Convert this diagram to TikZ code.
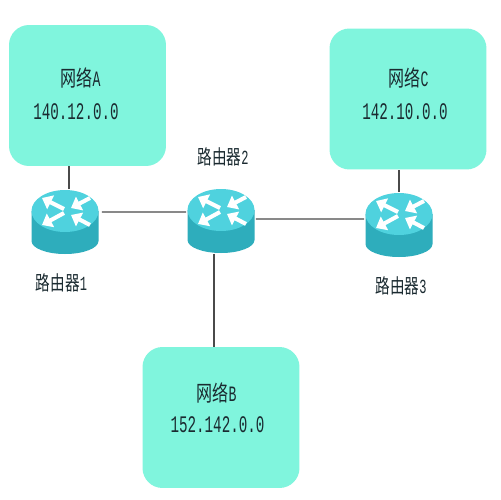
\documentclass[tikz,border=0pt]{standalone}
\usepackage{fontspec}
\setmainfont{Liberation Mono}
\newfontfamily\cjkf[FakeStretch=0.73]{Noto Sans CJK SC}
\newfontfamily\latf[FakeStretch=0.6]{Liberation Mono}
\usetikzlibrary{arrows.meta}
\definecolor{netc}{HTML}{80F5DD}
\definecolor{rtop}{HTML}{4FD2DE}
\definecolor{rside}{HTML}{2EADBC}
\definecolor{linec}{HTML}{4A4A4A}
\definecolor{txtc}{HTML}{1A2A30}
\tikzset{
  x=0.02cm,y=-0.02cm,
  netbox/.style={fill=netc,draw=none,rounded corners=0.4cm,minimum width=3.14cm,minimum height=2.82cm,inner sep=0pt},
  link/.style={draw=linec,line width=0.6pt},
  rbase/.style={inner sep=0pt,minimum width=1.34cm,minimum height=1.3cm},
  lbl/.style={inner sep=0pt,text=txtc},
  arw/.style={white,line width=2.3pt,-{Triangle[length=5.5pt,width=8.5pt]}},
  pics/routericon/.style={code={
    \fill[rside] (-33.5,-11) -- (-33.5,19) arc[x radius=33.5,y radius=13,start angle=180,end angle=0] -- (33.5,-11) -- cycle;
    \fill[rtop] (0,-11) ellipse[x radius=33.5,y radius=21];
    \draw[arw] (-1,-13) -- (-23,-24);
    \draw[arw] (25,-24) -- (6,-14);
    \draw[arw] (-1,-9) -- (-23,3);
    \draw[arw] (25,3) -- (6,-7);
  }}
}
\newcommand{\cjA}[2]{{\fontsize{12.5pt}{14pt}\selectfont\cjkf #1\latf\fontsize{12.5pt}{14pt}\selectfont #2}}
\newcommand{\cjB}[2]{{\fontsize{11.4pt}{13pt}\selectfont\cjkf #1\latf\fontsize{11.4pt}{13pt}\selectfont #2}}
\newcommand{\ipt}[1]{{\latf\fontsize{13.5pt}{15pt}\selectfont #1}}
\begin{document}
\begin{tikzpicture}
\useasboundingbox (0,0) rectangle (500,500);
\fill[white] (0,0) rectangle (500,500);
\node[netbox] (neta) at (87.5,95.5) {};
\node[netbox] (netc) at (408,99) {};
\node[netbox] (netb) at (221,417.5) {};
\node[rbase] (r1) at (65,222) {};
\node[rbase] (r2) at (221,221) {};
\node[rbase] (r3) at (399,225) {};
\path (r1) pic {routericon};
\path (r2) pic {routericon};
\path (r3) pic {routericon};
\draw[link] ([xshift=0.08cm]r1.north) -- ([xshift=0.08cm]r1.north |- neta.south);
\draw[link] (r3.north) -- (r3.north |- netc.south);
\draw[link] ([xshift=-0.14cm]r2.south) -- ([xshift=-0.14cm]r2.south |- netb.north);
\draw[link] ([xshift=0.06cm,yshift=0.2cm]r1.east) -- ([xshift=-0.02cm,yshift=0.18cm]r2.west);
\draw[link] ([yshift=0.04cm,xshift=0.02cm]r2.east) -- ([yshift=0.12cm,xshift=-0.02cm]r3.west);
\node[lbl] (ta) at (80.5,78) {\cjA{网络}{A}};
\node[lbl] (ia) at (76,111.5) {\ipt{140.12.0.0}};
\node[lbl] (tc) at (408.5,78) {\cjA{网络}{C}};
\node[lbl] (ic) at (405,111.5) {\ipt{142.10.0.0}};
\node[lbl] (tb) at (216.5,393) {\cjA{网络}{B}};
\node[lbl] (ib) at (217.5,425) {\ipt{152.142.0.0}};
\node[lbl] (l1) at (61.5,283) {\cjB{路由器}{1}};
\node[lbl] (l2) at (223,157) {\cjB{路由器}{2}};
\node[lbl] (l3) at (401,286) {\cjB{路由器}{3}};
\end{tikzpicture}
\end{document}
